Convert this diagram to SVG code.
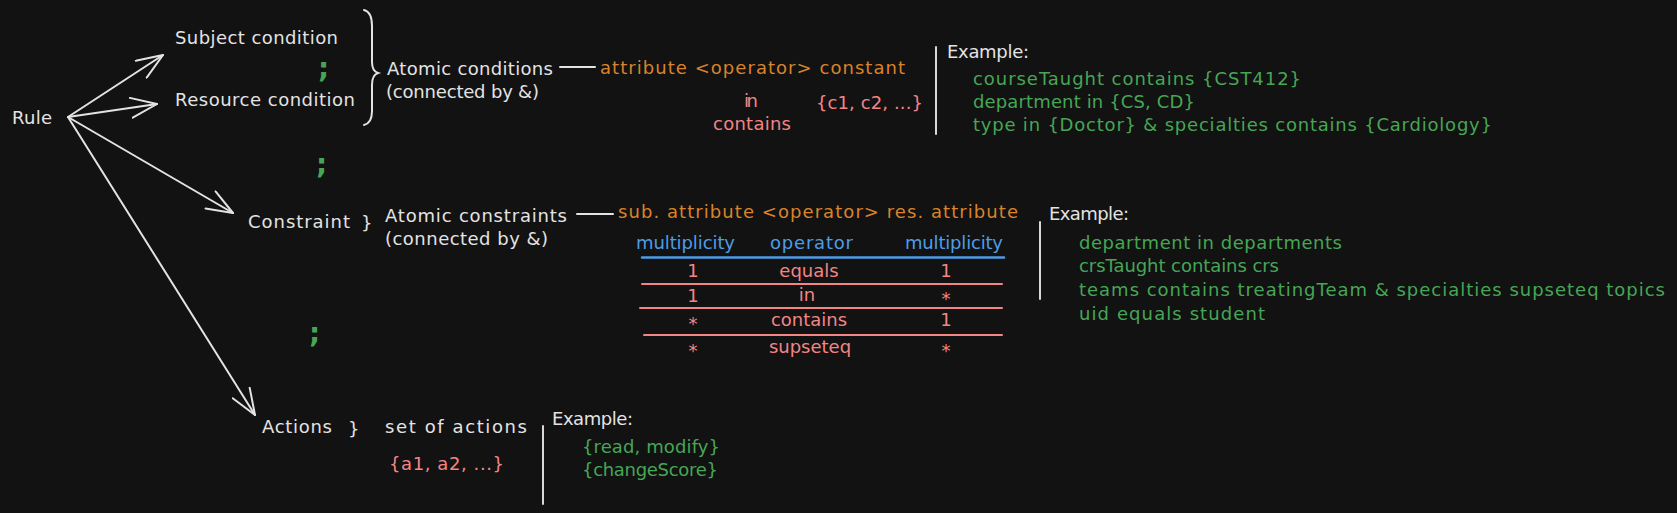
<svg xmlns="http://www.w3.org/2000/svg" width="1677" height="513" viewBox="0 0 1677 513">
<style>
.t{font-family:"DejaVu Sans","Liberation Sans",sans-serif;font-size:18px;fill:#e3e3e3}
.g{fill:#46a655}
.o{fill:#d9832a}
.p{fill:#f38585}
.b{fill:#4d9de6}
.sc{font-size:28px;font-weight:bold;fill:#46a655}
.c{text-anchor:middle}
.ln{stroke:#e3e3e3;stroke-width:2;fill:none;stroke-linecap:round}
.bar{stroke:#d8d8d8;stroke-width:2;fill:none;stroke-linecap:round}
.rl{stroke:#f38585;stroke-width:2;fill:none;stroke-linecap:round}
.bl{stroke:#4d9de6;stroke-width:2.5;fill:none;stroke-linecap:round}
</style>
<defs>
<marker id="ah" viewBox="0 0 28 22" refX="27" refY="11" markerWidth="28" markerHeight="22" markerUnits="userSpaceOnUse" orient="auto">
<path d="M1,1 L27,11 L1,21" fill="none" stroke="#e3e3e3" stroke-width="2" stroke-linecap="round" stroke-linejoin="round"/>
</marker>
</defs>
<rect width="1677" height="513" fill="#121212"/>

<g id="connectors">
<line class="ln" x1="68" y1="117" x2="163" y2="55" marker-end="url(#ah)"/>
<line class="ln" x1="68" y1="117" x2="157" y2="104" marker-end="url(#ah)"/>
<line class="ln" x1="68" y1="117" x2="233" y2="213" marker-end="url(#ah)"/>
<line class="ln" x1="68" y1="117" x2="255" y2="415" marker-end="url(#ah)"/>
<line class="ln" x1="560" y1="67" x2="595" y2="67"/>
<line class="ln" x1="577" y1="214" x2="613" y2="214"/>
</g>

<g id="rule"><text class="t" x="12" y="124" textLength="40">Rule</text></g>

<g id="subject-condition"><text class="t" x="175" y="44" textLength="163">Subject condition</text></g>
<g id="sep1"><text class="t sc" x="318" y="78">;</text></g>
<g id="resource-condition"><text class="t" x="175" y="106" textLength="180">Resource condition</text></g>
<g id="brace"><path class="ln" d="M364 10 Q372 12 372 26 L372 62 Q372 71 378 73 Q372 75 372 85 L372 111 Q372 123 364 125"/></g>

<g id="atomic-conditions">
<text class="t" x="387" y="75" textLength="166">Atomic conditions</text>
<text class="t" x="386" y="98" textLength="153">(connected by &amp;)</text>
</g>

<g id="condition-form">
<text class="t o" x="600" y="74" textLength="305">attribute &lt;operator&gt; constant</text>
<text class="t p" x="744" y="107" textLength="14">in</text>
<text class="t p" x="713" y="130" textLength="78">contains</text>
<text class="t p" x="816" y="109" textLength="107">{c1, c2, ...}</text>
</g>

<g id="condition-example">
<line class="bar" x1="936" y1="47" x2="936" y2="134"/>
<text class="t" x="947" y="58" textLength="82">Example:</text>
<text class="t g" x="973" y="85" textLength="328">courseTaught contains {CST412}</text>
<text class="t g" x="973" y="108" textLength="222">department in {CS, CD}</text>
<text class="t g" x="973" y="131" textLength="519">type in {Doctor} &amp; specialties contains {Cardiology}</text>
</g>

<g id="sep2"><text class="t sc" x="316" y="174">;</text></g>

<g id="constraint">
<text class="t" x="248" y="228" textLength="102">Constraint</text>
<text class="t" x="361" y="229">}</text>
</g>

<g id="atomic-constraints">
<text class="t" x="385" y="222" textLength="182">Atomic constraints</text>
<text class="t" x="385" y="245" textLength="163">(connected by &amp;)</text>
</g>

<g id="constraint-form">
<text class="t o" x="618" y="218" textLength="400">sub. attribute &lt;operator&gt; res. attribute</text>
<text class="t b" x="636" y="249" textLength="99">multiplicity</text>
<text class="t b" x="770" y="249" textLength="83">operator</text>
<text class="t b" x="905" y="249" textLength="98">multiplicity</text>
<line class="bl" x1="642" y1="257.5" x2="1004" y2="257.5"/>
<text class="t p c" x="693" y="277">1</text>
<text class="t p c" x="809" y="277">equals</text>
<text class="t p c" x="946" y="277">1</text>
<line class="rl" x1="642" y1="284" x2="1002" y2="284"/>
<text class="t p c" x="693" y="302">1</text>
<text class="t p c" x="807" y="301">in</text>
<text class="t p c" x="946" y="305">*</text>
<line class="rl" x1="640" y1="308" x2="1002" y2="308"/>
<text class="t p c" x="693" y="330">*</text>
<text class="t p c" x="809" y="326">contains</text>
<text class="t p c" x="946" y="326">1</text>
<line class="rl" x1="644" y1="335" x2="1002" y2="335"/>
<text class="t p c" x="693" y="357">*</text>
<text class="t p c" x="810" y="353">supseteq</text>
<text class="t p c" x="946" y="357">*</text>
</g>

<g id="constraint-example">
<line class="bar" x1="1040" y1="222" x2="1040" y2="299"/>
<text class="t" x="1049" y="220" textLength="80">Example:</text>
<text class="t g" x="1079" y="249" textLength="263">department in departments</text>
<text class="t g" x="1079" y="272" textLength="200">crsTaught contains crs</text>
<text class="t g" x="1079" y="296" textLength="586">teams contains treatingTeam &amp; specialties supseteq topics</text>
<text class="t g" x="1079" y="320" textLength="186">uid equals student</text>
</g>

<g id="sep3"><text class="t sc" x="309" y="343">;</text></g>

<g id="actions">
<text class="t" x="262" y="433" textLength="70">Actions</text>
<text class="t" x="348" y="435">}</text>
</g>

<g id="set-of-actions">
<text class="t" x="385" y="433" textLength="142">set of actions</text>
<text class="t p" x="389" y="470" textLength="115">{a1, a2, ...}</text>
</g>

<g id="actions-example">
<line class="bar" x1="543" y1="426" x2="543" y2="504"/>
<text class="t" x="552" y="425" textLength="81">Example:</text>
<text class="t g" x="582" y="453" textLength="138">{read, modify}</text>
<text class="t g" x="582" y="476" textLength="136">{changeScore}</text>
</g>
</svg>
